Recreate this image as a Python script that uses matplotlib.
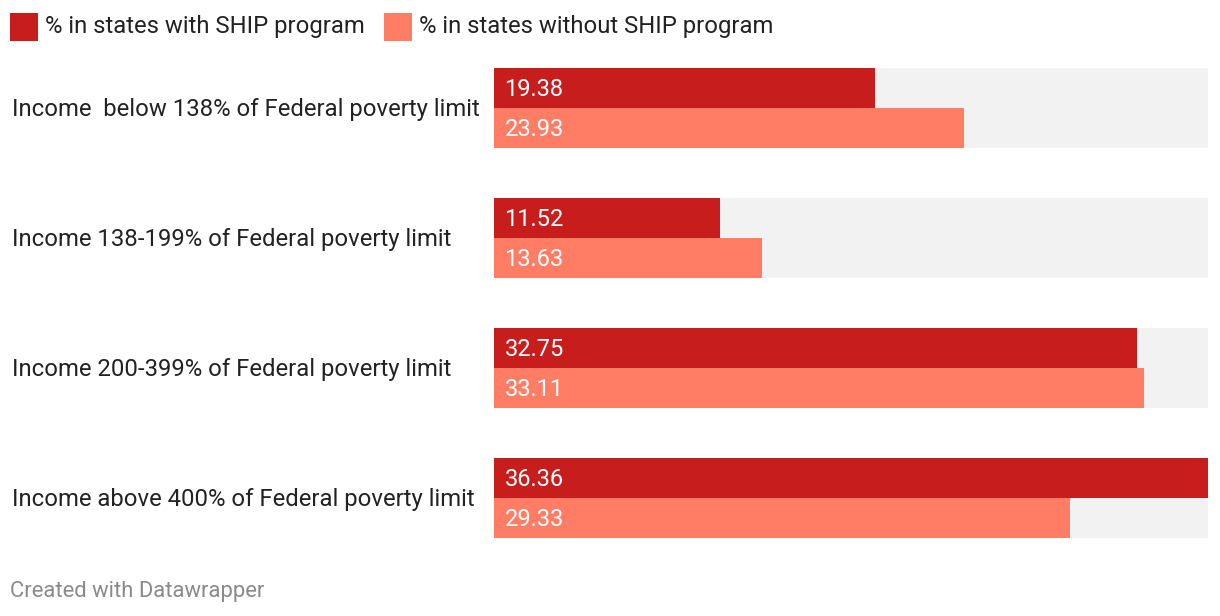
import matplotlib.pyplot as plt
from matplotlib.patches import Rectangle

plt.rcParams['font.family'] = ['Roboto', 'DejaVu Sans']

categories = [
    "Income  below 138% of Federal poverty limit",
    "Income 138-199% of Federal poverty limit",
    "Income 200-399% of Federal poverty limit",
    "Income above 400% of Federal poverty limit",
]
with_ship = [19.38, 11.52, 32.75, 36.36]
without_ship = [23.93, 13.63, 33.11, 29.33]
series_names = ["% in states with SHIP program", "% in states without SHIP program"]

dark = "#c71e1d"
light = "#ff7d64"
bg = "#f2f2f2"

W, H = 1220, 616
fig = plt.figure(figsize=(W / 100, H / 100), dpi=100)

# plot area in pixels: x 494..1208, y 68..538
ax = fig.add_axes([494 / W, (H - 538) / H, 714 / W, 470 / H])
h = 40 / 130
dy = 1.5 / 130  # nudge text down a little
xmax = max(max(with_ship), max(without_ship))
ax.set_xlim(0, xmax)
ax.set_ylim(3 + 2 * h, 0)
ax.axis("off")

for i, cat in enumerate(categories):
    ax.barh(i, xmax, height=2 * h, align="edge", color=bg, linewidth=0)
    ax.barh(i, with_ship[i], height=h, align="edge", color=dark, linewidth=0)
    ax.barh(i + h, without_ship[i], height=h, align="edge", color=light, linewidth=0)
    ax.text(xmax * 10.5 / 714, i + h / 2 + dy, f"{with_ship[i]:.2f}", color="white",
            fontsize=17, va="center", ha="left")
    ax.text(xmax * 10.5 / 714, i + 1.5 * h + dy, f"{without_ship[i]:.2f}", color="white",
            fontsize=17, va="center", ha="left")
    # category label, centred on the group
    y_px = 109.5 + 130 * i
    fig.text(12 / W, 1 - y_px / H, cat, fontsize=17.2, color="#222222",
             va="center", ha="left")

# legend
for j, (name, col, x0) in enumerate(zip(series_names, [dark, light], [10, 384])):
    fig.patches.append(Rectangle((x0 / W, 1 - 41 / H), 28 / W, 28 / H,
                                 transform=fig.transFigure, color=col, linewidth=0))
    fig.text((x0 + 35) / W, 1 - 27 / H, name, fontsize=17.2, color="#222222",
             va="center", ha="left")

fig.text(10 / W, 1 - 592 / H, "Created with Datawrapper", fontsize=15.8,
         color="#8a8a8a", va="center", ha="left")

fig.savefig("out.png", dpi=100, facecolor="white")
